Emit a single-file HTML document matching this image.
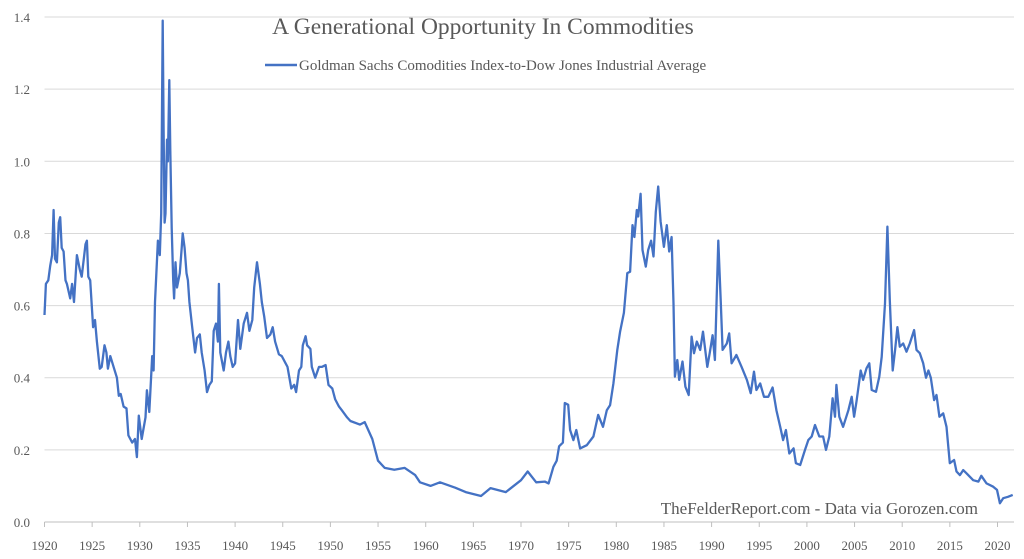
<!DOCTYPE html>
<html><head><meta charset="utf-8"><style>
body{margin:0;background:#fff;}
svg{display:block;font-family:"Liberation Serif",serif;}
</style></head><body>
<svg id="chart" width="1024" height="559">
<text x="483" y="34" text-anchor="middle" font-size="23.5" fill="#595959">A Generational Opportunity In Commodities</text>
<g>
<line x1="265" y1="65" x2="297" y2="65" stroke="#4472c4" stroke-width="2.5"/>
<text x="299" y="70" font-size="15" fill="#595959">Goldman Sachs Comodities Index-to-Dow Jones Industrial Average</text>
</g>
<g id="grid"></g><g id="axes"></g><g id="series"></g>
<text x="978" y="514" text-anchor="end" font-size="17" fill="#595959">TheFelderReport.com - Data via Gorozen.com</text>
</svg>
<script>
const years=[1920,1920.15,1920.4,1920.6,1920.8,1920.95,1921.1,1921.3,1921.5,1921.65,1921.8,1922,1922.2,1922.35,1922.7,1922.9,1923.1,1923.4,1923.7,1923.9,1924.3,1924.45,1924.6,1924.8,1925.1,1925.3,1925.5,1925.8,1926,1926.3,1926.5,1926.65,1926.9,1927.25,1927.6,1927.8,1928,1928.3,1928.6,1928.8,1929.2,1929.5,1929.7,1929.9,1930.2,1930.6,1930.75,1931,1931.3,1931.45,1931.6,1931.9,1932.1,1932.25,1932.4,1932.5,1932.6,1932.7,1932.85,1932.95,1933.1,1933.2,1933.35,1933.5,1933.6,1933.75,1933.9,1934.2,1934.4,1934.5,1934.7,1934.9,1935.05,1935.2,1935.5,1935.8,1936,1936.3,1936.5,1936.8,1937.05,1937.3,1937.55,1937.75,1938,1938.2,1938.3,1938.45,1938.8,1939.05,1939.3,1939.5,1939.75,1940,1940.3,1940.55,1940.9,1941.25,1941.5,1941.8,1942,1942.3,1942.6,1942.8,1943.05,1943.35,1943.7,1943.95,1944.2,1944.6,1944.9,1945.3,1945.5,1945.9,1946.2,1946.4,1946.7,1946.95,1947.1,1947.4,1947.55,1947.9,1948.05,1948.4,1948.8,1949.1,1949.5,1949.8,1950.2,1950.5,1950.9,1951.2,1951.75,1952.1,1953.1,1953.6,1954.4,1955,1955.7,1956.7,1957.8,1958.9,1959.4,1960.5,1961.5,1963.1,1964.2,1965.8,1966.8,1968.4,1970,1970.7,1971.6,1972.5,1972.9,1973.4,1973.75,1974,1974.4,1974.6,1974.95,1975.15,1975.5,1975.8,1976.2,1976.9,1977.6,1978.1,1978.6,1979,1979.35,1979.7,1980.1,1980.4,1980.8,1981.15,1981.45,1981.7,1981.9,1982.15,1982.3,1982.55,1982.75,1983.1,1983.35,1983.65,1983.9,1984.15,1984.4,1984.65,1985,1985.3,1985.55,1985.8,1986,1986.15,1986.4,1986.6,1986.95,1987.25,1987.6,1987.9,1988.15,1988.45,1988.8,1989.1,1989.55,1989.8,1990.1,1990.35,1990.7,1990.95,1991.15,1991.6,1991.85,1992.1,1992.6,1993.15,1993.7,1994.1,1994.45,1994.7,1995.1,1995.5,1995.95,1996.4,1996.8,1997.2,1997.5,1997.8,1998.15,1998.6,1998.85,1999.3,1999.8,2000.15,2000.5,2000.85,2001.3,2001.7,2002,2002.35,2002.7,2002.95,2003.1,2003.4,2003.8,2004.35,2004.7,2004.95,2005.2,2005.65,2005.9,2006.25,2006.55,2006.8,2007.25,2007.6,2007.85,2008.2,2008.45,2008.7,2009,2009.25,2009.5,2009.75,2010.1,2010.45,2010.8,2011.25,2011.5,2011.85,2012.2,2012.5,2012.75,2013,2013.35,2013.6,2013.9,2014.3,2014.65,2015,2015.45,2015.7,2016.05,2016.4,2016.75,2017.45,2018,2018.3,2018.85,2019.55,2019.95,2020.25,2020.6,2021.1,2021.6];
const ratio=[0.574,0.66,0.67,0.71,0.74,0.865,0.73,0.72,0.83,0.845,0.76,0.75,0.67,0.66,0.62,0.66,0.61,0.74,0.70,0.68,0.77,0.78,0.68,0.67,0.54,0.56,0.50,0.425,0.43,0.49,0.47,0.425,0.46,0.43,0.40,0.35,0.355,0.32,0.315,0.24,0.22,0.23,0.18,0.295,0.23,0.29,0.365,0.305,0.46,0.42,0.61,0.78,0.74,0.855,1.39,1.09,0.83,0.855,1.06,1.0,1.225,1.03,0.815,0.67,0.62,0.72,0.65,0.69,0.76,0.80,0.76,0.69,0.67,0.61,0.54,0.47,0.51,0.52,0.47,0.42,0.36,0.38,0.39,0.53,0.55,0.50,0.66,0.47,0.42,0.47,0.50,0.46,0.43,0.44,0.56,0.48,0.55,0.58,0.53,0.56,0.65,0.72,0.66,0.61,0.57,0.51,0.52,0.54,0.50,0.465,0.46,0.44,0.43,0.37,0.38,0.36,0.42,0.43,0.49,0.515,0.49,0.48,0.43,0.40,0.43,0.43,0.435,0.38,0.37,0.34,0.32,0.31,0.29,0.28,0.27,0.277,0.23,0.17,0.15,0.145,0.15,0.13,0.11,0.10,0.11,0.095,0.083,0.072,0.094,0.083,0.116,0.14,0.11,0.112,0.107,0.153,0.17,0.21,0.22,0.33,0.325,0.255,0.227,0.255,0.204,0.213,0.237,0.297,0.264,0.31,0.324,0.384,0.477,0.528,0.58,0.69,0.694,0.823,0.79,0.865,0.847,0.91,0.754,0.708,0.754,0.78,0.736,0.86,0.93,0.833,0.763,0.823,0.75,0.79,0.606,0.403,0.449,0.394,0.445,0.375,0.352,0.514,0.468,0.50,0.477,0.528,0.43,0.468,0.518,0.449,0.78,0.615,0.477,0.495,0.523,0.44,0.463,0.43,0.394,0.357,0.417,0.366,0.384,0.347,0.347,0.373,0.31,0.264,0.227,0.255,0.19,0.204,0.163,0.158,0.20,0.227,0.237,0.269,0.237,0.237,0.20,0.237,0.343,0.292,0.38,0.292,0.264,0.31,0.347,0.292,0.334,0.42,0.394,0.426,0.44,0.366,0.361,0.403,0.458,0.606,0.819,0.615,0.42,0.477,0.54,0.486,0.495,0.472,0.495,0.532,0.477,0.468,0.44,0.40,0.42,0.40,0.338,0.352,0.292,0.301,0.264,0.163,0.172,0.14,0.13,0.144,0.135,0.116,0.112,0.128,0.107,0.098,0.089,0.052,0.066,0.07,0.075];
const yTicks=[0,0.2,0.4,0.6,0.8,1.0,1.2,1.4];
const yTickLabels=["0.0","0.2","0.4","0.6","0.8","1.0","1.2","1.4"];
const xTicks=[1920,1925,1930,1935,1940,1945,1950,1955,1960,1965,1970,1975,1980,1985,1990,1995,2000,2005,2010,2015,2020];

const NS="http://www.w3.org/2000/svg";
const X0=44.5, PXY=9.53, Y0=522, PXV=360.7, XR=1014;
function xs(y){return X0+(y-1920)*PXY;}
function ys(v){return Y0-v*PXV;}
function mk(tag,attrs,parent){const e=document.createElementNS(NS,tag);for(const k in attrs)e.setAttribute(k,attrs[k]);parent.appendChild(e);return e;}
const grid=document.getElementById('grid'),axes=document.getElementById('axes'),series=document.getElementById('series');
yTicks.forEach((t,i)=>{
  if(t>0){const l=mk('line',{x1:X0,x2:XR,y1:ys(t),y2:ys(t),stroke:'#d9d9d9','stroke-width':1},grid);
  
  }
  const tx=mk('text',{x:30,y:ys(t)+5,'text-anchor':'end','font-size':13,fill:'#595959'},axes);
  tx.textContent=yTickLabels[i];
  
  
});
const ax=mk('line',{x1:X0,x2:XR,y1:Y0,y2:Y0,stroke:'#bfbfbf','stroke-width':1},axes);


xTicks.forEach(t=>{
  const tk=mk('line',{x1:xs(t),x2:xs(t),y1:Y0,y2:Y0+5,stroke:'#bfbfbf'},axes);
  
  
  const tx=mk('text',{x:xs(t),y:550,'text-anchor':'middle','font-size':13,fill:'#595959'},axes);
  tx.textContent=t;
  
  
});
const pts=years.map((y,i)=>xs(y).toFixed(1)+','+ys(ratio[i]).toFixed(1)).join(' ');
const pl=mk('polyline',{points:pts,fill:'none',stroke:'#4472c4','stroke-width':2.3,'stroke-linejoin':'round'},series);


</script>
</body></html>
